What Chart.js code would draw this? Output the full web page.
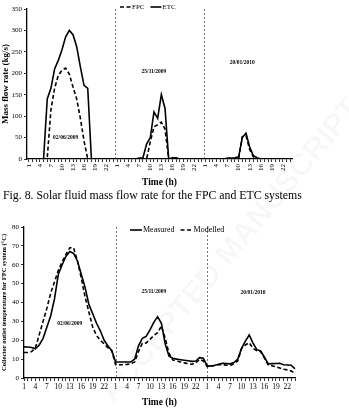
<!DOCTYPE html>
<html lang="en">
<head>
<meta charset="UTF-8">
<title>Fig. 8</title>
<script src="https://cdn.jsdelivr.net/npm/chart.js"></script>
<style>
  body, html { margin: 0; width: 349px; height: 410px; background: #fff; overflow: hidden; font-family: "Liberation Serif", serif; }
  canvas { position: absolute; left: 0; }
  #flowChart { top: 0; }
  #tempChart { top: 218px; }
  .caption { position: absolute; left: 3px; top: 188px; font-size: 11.8px; line-height: 14px; color: #000; white-space: nowrap; }
  .stamp { position: absolute; left: 20px; top: 232px; width: 420px; text-align: center; font: bold 31px "Liberation Sans", sans-serif;
           color: rgba(0,0,0,0.03); transform: rotate(-50deg); transform-origin: 50% 50%; white-space: nowrap; }
</style>
</head>
<body>
<div class="stamp">ACCEPTED MANUSCRIPT</div>
<canvas id="flowChart" width="349" height="190"></canvas>
<div class="caption">Fig. 8. Solar fluid mass flow rate for the FPC and ETC systems</div>
<canvas id="tempChart" width="349" height="192"></canvas>
<script>
// hours of each day and the three measuring days
const hours = [1,2,3,4,5,6,7,8,9,10,11,12,13,14,15,16,17,18,19,20,21,22,23,24];
const shownHours = [1,4,7,10,13,16,19,22];
const days = ['02/06/2009', '25/11/2009', '20/01/2010'];

// mass flow rate (kg/s)
const fpcDay1 = [0,0,0,0,0,2,115,165,195,207,212,198,168,140,95,42,0,0,0,0,0,0,0,0];
const fpcDay2 = [0,0,0,0,0,0,0,0,0,40,75,80,86,70,0,0,0,0,0,0,0,0,0,0];
const fpcDay3 = [0,0,0,0,0,0,0,0,0,0,52,55,22,5,0,0,0,0,0,0,0,0,0,0];
const etcDay1 = [0,0,0,0,0,140,165,210,230,255,285,300,290,262,215,172,165,0,0,0,0,0,0,0];
const etcDay2 = [0,0,0,0,0,0,2,3,35,50,110,95,150,118,0,3,3,0,0,0,0,0,0,0];
const etcDay3 = [0,0,0,0,0,0,2,2,3,5,50,60,28,8,3,0,0,0,0,0,0,0,0,0];

// collector outlet temperature (°C)
const measDay1 = [16.5,16.4,16.2,15.5,17.5,21,27,33,42,55,60,64.5,67,66,62,55,48,39,34,29,25,20,17,14.5];
const measDay2 = [8.5,8.5,8.5,8.5,8.5,10,17,21,22,25.5,29.5,32.5,29,18,11.5,10.5,10,9.7,9.4,9.1,8.8,9,10.8,10.5];
const measDay3 = [6.3,6.4,6.8,7.3,7.8,7.7,7.5,8.2,10,15.7,19.5,22.8,18.5,15,14.3,11,7.5,7.6,7.7,7.8,7,6.9,6.8,4.8];
const modDay1 = [13.5,13.5,14,16,23,30,37,45,51,57,61.5,65.5,69,69,62,53,43,35,27,22.5,20,18,16,14.5];
const modDay2 = [7,7,7,7.2,7.5,8.5,14,18.4,18.5,20.5,22.5,24,27.5,21,13,9.5,9,8.5,8,7.6,7.3,8,9.9,9];
const modDay3 = [6,6.2,6.6,7,7,6.8,6.6,7.5,9,15.7,17.5,18.7,15.7,14.5,14,10.5,6.9,6.5,6,5.3,4.6,4.3,3.7,2.5];

const labels = days.flatMap(() => hours.map(String));
const FONT = '"Liberation Serif", serif';

// x pixel for a (possibly fractional) category index
function xAt(scale, v) {
  const i = Math.floor(v), f = v - i;
  const a = scale.getPixelForValue(i);
  if (!f) return a;
  return a + f * (scale.getPixelForValue(i + 1) - a);
}

const daySep = {
  id: 'daySep',
  beforeDatasetsDraw(chart, args, opts) {
    const { ctx, chartArea, scales } = chart;
    ctx.save();
    ctx.strokeStyle = '#777';
    ctx.lineWidth = 1;
    ctx.setLineDash([2, 2]);
    opts.at.forEach(v => {
      const x = Math.round(xAt(scales.x, v)) + 0.5;
      ctx.beginPath();
      ctx.moveTo(x, chartArea.top);
      ctx.lineTo(x, chartArea.bottom);
      ctx.stroke();
    });
    ctx.restore();
  }
};

const dayLabels = {
  id: 'dayLabels',
  afterDatasetsDraw(chart, args, opts) {
    const { ctx, scales } = chart;
    ctx.save();
    ctx.font = opts.font;
    ctx.fillStyle = '#000';
    ctx.textAlign = 'center';
    ctx.textBaseline = 'middle';
    days.forEach((d, k) => {
      ctx.fillText(d, xAt(scales.x, opts.idx[k]), scales.y.getPixelForValue(opts.val[k]));
    });
    ctx.restore();
  }
};

const lineLegend = {
  id: 'lineLegend',
  afterDraw(chart, args, opts) {
    const ctx = chart.ctx;
    ctx.save();
    ctx.font = opts.font;
    ctx.fillStyle = '#000';
    ctx.textBaseline = 'middle';
    let x = opts.x;
    chart.data.datasets.forEach(ds => {
      ctx.strokeStyle = '#000';
      ctx.lineWidth = 1.6;
      ctx.setLineDash(ds.borderDash || []);
      ctx.beginPath();
      ctx.moveTo(x, opts.y);
      ctx.lineTo(x + opts.sample, opts.y);
      ctx.stroke();
      x += opts.sample + 1;
      ctx.fillText(ds.label, x, opts.y);
      x += ctx.measureText(ds.label).width + opts.gap;
    });
    ctx.restore();
  }
};

function makeOptions(c) {
  return {
    responsive: false,
    animation: false,
    layout: { padding: { left: 0, right: c.right, top: 9, bottom: 0 } },
    plugins: {
      legend: { display: false },
      tooltip: { enabled: false },
      daySep: { at: c.sepAt },
      dayLabels: { idx: c.labelIdx, val: c.labelVal, font: 'bold 5.5px ' + FONT },
      lineLegend: c.legend
    },
    scales: {
      x: {
        offset: c.offset,
        afterFit: s => { s.height = c.xHeight; },
        grid: { display: true, drawOnChartArea: false, drawTicks: true, tickLength: 3, color: '#000', lineWidth: 0.8 },
        border: { display: true, color: '#000', width: 1.3 },
        ticks: {
          autoSkip: false, color: '#000', padding: 2,
          minRotation: c.rot, maxRotation: c.rot,
          font: { family: FONT, size: c.xTickSize },
          callback: function (v) { const h = this.getLabelForValue(v); return shownHours.includes(+h) ? h : ''; }
        },
        title: { display: true, text: 'Time (h)', color: '#000', font: { family: FONT, size: 9.5, weight: 'bold' }, padding: { top: 0, bottom: 2 } }
      },
      y: {
        min: 0, max: c.yMax,
        afterFit: s => { s.width = c.yWidth; },
        grid: { display: true, drawOnChartArea: false, drawTicks: true, tickLength: 3, color: '#000', lineWidth: 0.8 },
        border: { display: true, color: '#000', width: 1.3 },
        ticks: { stepSize: c.yStep, color: '#000', padding: 2, font: { family: FONT, size: c.yTickSize } },
        title: { display: true, text: c.yTitle, color: '#000', font: { family: FONT, size: c.yTitleSize, weight: 'bold' }, padding: { top: 0, bottom: 1 } }
      }
    }
  };
}

function line(label, data, dashed) {
  return {
    label, data,
    borderColor: '#000', borderWidth: 1.6,
    borderDash: dashed ? [4, 2.5] : [],
    pointRadius: 0, tension: 0, fill: false
  };
}

new Chart(document.getElementById('flowChart'), {
  type: 'line',
  data: {
    labels,
    datasets: [
      line('FPC', [...fpcDay1, ...fpcDay2, ...fpcDay3], true),
      line('ETC', [...etcDay1, ...etcDay2, ...etcDay3], false)
    ]
  },
  options: makeOptions({
    right: 57, xHeight: 31, yWidth: 27, offset: true, rot: 90, xTickSize: 7,
    yMax: 350, yStep: 50, yTickSize: 7, yTitle: 'Mass flow rate (kg/s)', yTitleSize: 9,
    sepAt: [23.5, 47.5], labelIdx: [10, 34, 58], labelVal: [50, 205, 224],
    legend: { x: 120, y: 7, sample: 11, gap: 6, font: '7px ' + FONT }
  }),
  plugins: [daySep, dayLabels, lineLegend]
});

new Chart(document.getElementById('tempChart'), {
  type: 'line',
  data: {
    labels,
    datasets: [
      line('Measured', [...measDay1, ...measDay2, ...measDay3], false),
      line('Modelled', [...modDay1, ...modDay2, ...modDay3], true)
    ]
  },
  options: makeOptions({
    right: 54, xHeight: 32, yWidth: 24, offset: false, rot: 0, xTickSize: 7.5,
    yMax: 80, yStep: 10, yTickSize: 7, yTitle: 'Collector outlet temperature for FPC system (°C)', yTitleSize: 6.5,
    sepAt: [24, 48], labelIdx: [12, 34, 60], labelVal: [29, 46, 45],
    legend: { x: 130, y: 12, sample: 12, gap: 6, font: '8px ' + FONT }
  }),
  plugins: [daySep, dayLabels, lineLegend]
});
</script>
</body>
</html>
